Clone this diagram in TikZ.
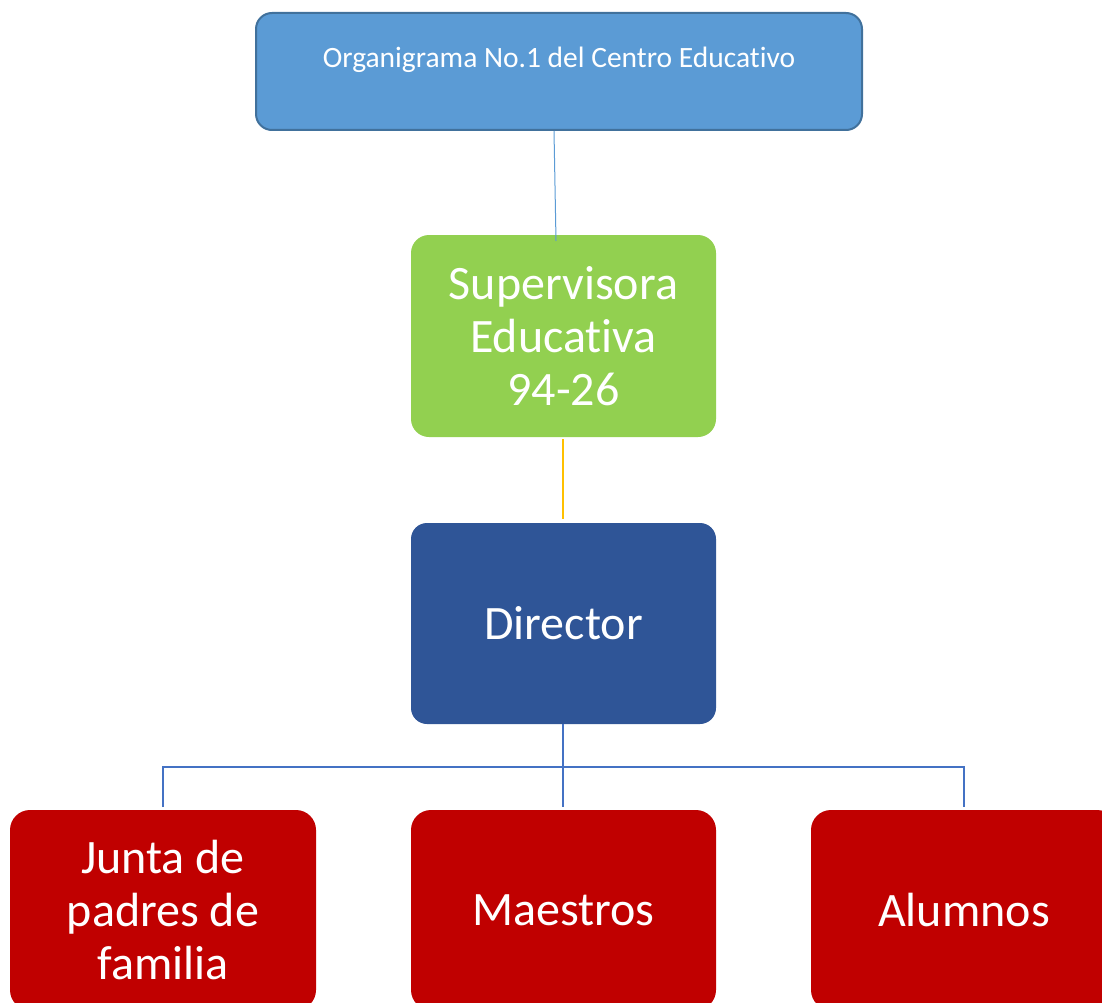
\documentclass[tikz,border=0pt]{standalone}
\usepackage{fontspec}
\setmainfont[Ligatures={NoCommon},RawFeature={-liga;-clig;-calt;-dlig}]{Carlito}
\definecolor{topfill}{HTML}{5B9BD5}
\definecolor{topdraw}{HTML}{41719C}
\definecolor{greenfill}{HTML}{92D050}
\definecolor{dirfill}{HTML}{2F5597}
\definecolor{redfill}{HTML}{C00000}
\definecolor{orangeline}{HTML}{FFC000}
\definecolor{treeline}{HTML}{4472C4}
\begin{document}
\begin{tikzpicture}[x=1pt,y=-1pt,
  box/.style={rectangle, rounded corners=16pt, text=white, align=center, inner sep=0pt, draw=none},
  bigtxt/.style={font=\fontsize{48}{53}\selectfont},
]
\useasboundingbox (0,0) rectangle (1102,1003);
\clip (0,0) rectangle (1102,1003);
\node[box, fill=topfill, draw=topdraw, line width=2pt, minimum width=606pt, minimum height=117pt, anchor=north] (top) at (559,12) {};
\node[text=white, font=\fontsize{29.5}{34}\selectfont, inner sep=0pt] (toptxt) at (559,60) {Organigrama No.1 del Centro Educativo};
\node[box, fill=greenfill, minimum width=305pt, minimum height=202pt, bigtxt, rounded corners=18pt] (sup) at (563.5,336) {Supervisora\\Educativa\\94-26};
\node[box, fill=dirfill, minimum width=305pt, minimum height=201pt, bigtxt] (dir) at (563.5,623.5) {Director};
\node[box, fill=redfill, minimum width=306pt, minimum height=200pt, bigtxt, rounded corners=20pt] (junta) at (163,910) {Junta de\\padres de\\familia};
\node[box, fill=redfill, minimum width=305pt, minimum height=200pt, bigtxt, rounded corners=20pt] (maes) at (563.5,910) {Maestros};
\node[box, fill=redfill, minimum width=306pt, minimum height=200pt, bigtxt, rounded corners=20pt] (alum) at (964,910) {Alumnos};
\draw[topfill, line width=1pt] (top.south -| 554,0) -- (556,241);
\draw[orangeline, line width=2.5pt] (563,439) -- (563,519);
\coordinate (bus) at (563,767);
\draw[treeline, line width=2pt] (dir.south -| bus) -- (bus);
\draw[treeline, line width=2pt] (163,807) -- (163,767) -- (964,767) -- (964,807);
\draw[treeline, line width=2pt] (bus) -- (563,807);
\end{tikzpicture}
\end{document}
